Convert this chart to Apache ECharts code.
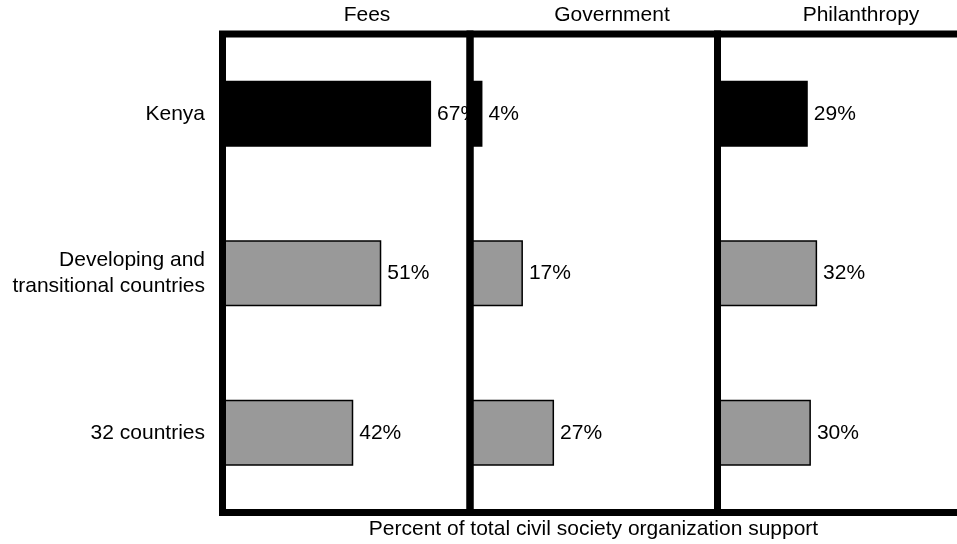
<!DOCTYPE html>
<html>
<head>
<meta charset="utf-8">
<script src="https://cdn.jsdelivr.net/npm/echarts@6/dist/echarts.min.js"></script>
<style>
html,body{margin:0;padding:0;background:#fff;}
#chart{width:957px;height:544px;}
</style>
</head>
<body>
<div id="chart"></div>
<script>
const categories = ['Kenya', 'Developing and\ntransitional countries', '32 countries'];
const panelNames = ['Fees', 'Government', 'Philanthropy'];
const fees = [67, 51, 42];
const government = [4, 17, 27];
const philanthropy = [29, 32, 30];
const axisTitle = 'Percent of total civil society organization support';

const panelValues = [fees, government, philanthropy];
const FONT = 'Arial, "Liberation Sans", sans-serif';
const gridLefts = [222.5, 470, 717.5];
const gridWidth = 247.5;
const titleCenters = [367, 612, 861];

const chart = echarts.init(document.getElementById('chart'), null, {renderer: 'canvas'});

const option = {
  backgroundColor: '#fff',
  animation: false,
  title: panelNames.map((n, i) => ({
    text: n,
    left: titleCenters[i],
    top: 5,
    padding: 0,
    textAlign: 'center',
    textStyle: {fontFamily: FONT, fontSize: 21, fontWeight: 'normal', color: '#000'}
  })).concat([{
    text: axisTitle,
    left: 593.5,
    top: 519,
    padding: 0,
    textAlign: 'center',
    textStyle: {fontFamily: FONT, fontSize: 21, fontWeight: 'normal', color: '#000'}
  }]),
  grid: gridLefts.map(l => ({
    left: l, width: gridWidth, top: 34, height: 478.5,
    outerBoundsMode: 'none', containLabel: false,
    show: true, z: 10,
    backgroundColor: 'transparent',
    borderColor: '#000', borderWidth: 7
  })),
  xAxis: gridLefts.map((l, i) => ({
    type: 'value', gridIndex: i, min: 0, max: 79.5, show: false
  })),
  yAxis: gridLefts.map((l, i) => ({
    type: 'category', gridIndex: i, data: categories, inverse: true,
    axisLine: {show: false}, axisTick: {show: false}, splitLine: {show: false},
    axisLabel: {
      show: i === 0, margin: 17.5, fontFamily: FONT, fontSize: 21,
      color: '#000', lineHeight: 26, align: 'right'
    }
  })),
  series: panelValues.map((vals, i) => ({
    type: 'bar', xAxisIndex: i, yAxisIndex: i, data: vals, barWidth: 66,
    itemStyle: {
      color: p => p.dataIndex === 0 ? '#000' : '#999999',
      borderColor: '#000', borderWidth: 1.5
    },
    label: {
      show: true, position: 'right', distance: 6, formatter: '{c}%',
      fontFamily: FONT, fontSize: 21, color: '#000'
    }
  }))
};
chart.setOption(option);
</script>
</body>
</html>
